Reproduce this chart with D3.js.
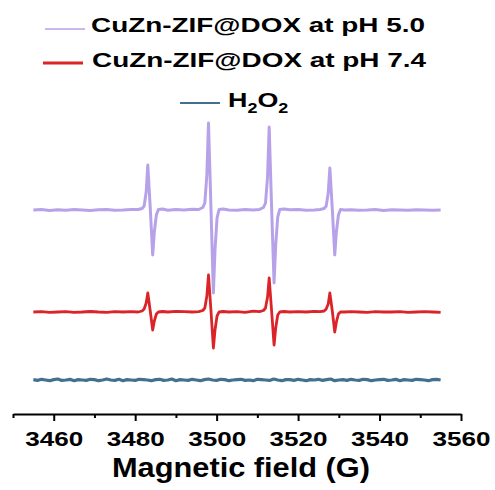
<!DOCTYPE html>
<html>
<head>
<meta charset="utf-8">
<script src="https://cdn.jsdelivr.net/npm/d3@7"></script>
<style>
  body { margin: 0; background: #fff; }
  text { font-family: Arial, "Liberation Sans", sans-serif; font-weight: bold; fill: #000; }
</style>
</head>
<body>
<div id="chart"></div>
<script>
// EPR spectra (DMPO-OH quartet), shared field axis for the two samples
var field = [3455, 3457, 3459, 3461, 3463, 3465, 3467, 3469, 3471, 3473, 3475, 3477, 3479, 3480.7,
  3481.7, 3482.2, 3482.7, 3483.1, 3483.7, 3484.3, 3484.7, 3485.2, 3485.7, 3486.7,
  3488, 3490, 3492, 3494, 3495.6,
  3496.6, 3497.1, 3497.6, 3498.0, 3498.6, 3499.2, 3499.6, 3500.1, 3500.6, 3501.6,
  3503, 3505, 3507, 3509, 3510.5,
  3511.5, 3512.0, 3512.5, 3512.9, 3513.5, 3514.1, 3514.5, 3515.0, 3515.5, 3516.5,
  3518, 3520, 3522, 3524, 3525.4,
  3526.4, 3526.9, 3527.4, 3527.8, 3528.4, 3529.0, 3529.4, 3529.9, 3530.4, 3531.4,
  3533, 3535, 3537, 3539, 3541, 3543, 3545, 3547, 3549, 3551, 3553, 3555];

var ph50 = [0, 0.5, -0.5, 0.3, -0.3, 0.5, 0, -0.5, 0.3, 0.6, -0.3, 0, 0.5, 0.5,
  1.5, 4, 18, 45, 2, -45, -22, -5, 0.5, 1,
  -0.3, 0.5, 0, 0.8, 0.5,
  2.5, 7, 35, 87, 3, -83, -40, -8, 0.5, 1,
  0, -0.3, 0.5, 0, 0.6,
  2.5, 7, 33, 83, 2, -73, -35, -7, 0.5, 1,
  0.3, 0.6, -0.3, 0, 0.5,
  1.5, 4, 17, 42, 1, -45, -22, -5, 0.5, 0,
  0.3, -0.3, 0, 0.5, -0.5, 0.3, 0, -0.3, 0.3, 0, -0.3, 0];

var ph74 = [0, 0.3, -0.3, 0, 0.3, -0.3, 0, 0.5, 0, -0.3, 0.3, 0, 0.3, 0,
  1, 3, 9, 19, 1, -18, -9, -2, 0, 0.5,
  0, 0.6, 0.3, 0, 0.3,
  1.5, 4, 16, 37, 2, -36, -18, -4, 0, 0.5,
  0, 0.3, -0.3, 0.8, 0.3,
  1.5, 4, 15, 34, 1, -33, -16, -3, 0, 0.5,
  0, 0.3, 0, 0.6, 0.3,
  1, 3, 8, 19, 1, -20, -10, -2, 0, 0,
  0.3, 0, -0.3, 0.3, 0, 0, 0.3, -0.3, 0, 0.3, 0, -0.3];

// H2O2 only: flat noisy trace
var fieldH2O2 = [3455, 3456, 3457, 3458, 3459, 3460, 3461, 3462, 3463, 3464,
  3465, 3466, 3467, 3468, 3469, 3470, 3471, 3472, 3473, 3474,
  3475, 3476, 3477, 3478, 3479, 3480, 3481, 3482, 3483, 3484,
  3485, 3486, 3487, 3488, 3489, 3490, 3491, 3492, 3493, 3494,
  3495, 3496, 3497, 3498, 3499, 3500, 3501, 3502, 3503, 3504,
  3505, 3506, 3507, 3508, 3509, 3510, 3511, 3512, 3513, 3514,
  3515, 3516, 3517, 3518, 3519, 3520, 3521, 3522, 3523, 3524,
  3525, 3526, 3527, 3528, 3529, 3530, 3531, 3532, 3533, 3534,
  3535, 3536, 3537, 3538, 3539, 3540, 3541, 3542, 3543, 3544,
  3545, 3546, 3547, 3548, 3549, 3550, 3551, 3552, 3553, 3554,
  3555];
var h2o2 = [0.4, -0.4, 0.7, 0, -0.7, 0.4, 1, -0.4, 0, 0.7,
  -0.7, 0.4, 0, -0.4, 0.7, 0.4, -0.7, 0, 1, 0,
  -0.4, 0.7, -0.7, 0.4, 0, -0.4, 0.7, 0.4, 0, -0.7,
  0.4, 0.7, -0.4, 0, 1, -0.7, 0.4, 0, -0.4, 0.7,
  0, -0.7, 0.4, 1, 0, -0.4, 0.7, 0.4, -0.7, 0,
  0.4, 0.7, -0.4, 0, -0.7, 0.7, 0.4, 0, -0.4, 1,
  0, -0.7, 0.4, 0.4, -0.4, 0.7, 0, -0.7, 0.4, 0,
  0.7, -0.4, 0.4, 1, -0.7, 0, 0.4, -0.4, 0.7, 0,
  -0.4, 0.7, 0.4, -0.7, 0, 0.4, 0.7, -0.4, 0, 0.7,
  -0.7, 0.4, 0, -0.4, 0.7, 0.4, 0, -0.7, 0.4, 0.7,
  0];

var majorTicks = [3460, 3480, 3500, 3520, 3540, 3560];
var minorTicks = [3450, 3470, 3490, 3510, 3530, 3550];

var width = 495, height = 490;

var svg = d3.select("#chart").append("svg")
  .attr("width", width)
  .attr("height", height);

var x = d3.scaleLinear().domain([3450, 3560]).range([13, 461]);
// arbitrary intensity units, stacked with offsets
var y = d3.scaleLinear().domain([-30, 270]).range([410, 110]);

var series = [
  { name: "CuZn-ZIF@DOX at pH 5.0", xs: field, ys: ph50, offset: 170, color: "#b7a2ea", w: 3 },
  { name: "CuZn-ZIF@DOX at pH 7.4", xs: field, ys: ph74, offset: 68, color: "#da2428", w: 2.8 },
  { name: "H2O2", xs: fieldH2O2, ys: h2o2, offset: 0, color: "#43708f", w: 3.2 }
];

var line = d3.line()
  .x(d => x(d[0]))
  .y(d => y(d[1]));

// draw bottom trace first so the upper ones sit on top
series.slice().reverse().forEach(function(s) {
  var pts = s.xs.map((f, i) => [f, s.ys[i] + s.offset]);
  svg.append("path")
    .datum(pts)
    .attr("fill", "none")
    .attr("stroke", s.color)
    .attr("stroke-width", s.w)
    .attr("stroke-linejoin", "round")
    .attr("d", line);
});

// axis
var axisY = 414;
svg.append("g")
  .attr("transform", `translate(0,${axisY})`)
  .call(d3.axisBottom(x).tickValues(minorTicks).tickSize(4).tickSizeOuter(0).tickFormat(""))
  .call(g => g.select(".domain").remove())
  .call(g => g.selectAll("line").attr("stroke-width", 2));

var xAxis = svg.append("g")
  .attr("transform", `translate(0,${axisY})`)
  .call(d3.axisBottom(x).tickValues(majorTicks).tickSize(7).tickSizeOuter(0).tickFormat(d3.format("d")));

xAxis.select(".domain").attr("stroke-width", 2);
xAxis.selectAll("line").attr("stroke-width", 2);
xAxis.selectAll("text")
  .attr("y", 32)
  .attr("dy", 0)
  .style("font-size", "21px")
  .style("font-family", "Arial, 'Liberation Sans', sans-serif")
  .style("font-weight", "bold")
  .attr("fill", "#000")
  .attr("textLength", 58)
  .attr("lengthAdjust", "spacingAndGlyphs");

svg.append("text")
  .attr("x", 112)
  .attr("y", 477)
  .style("font-size", "28px")
  .attr("textLength", 258)
  .attr("lengthAdjust", "spacingAndGlyphs")
  .text("Magnetic field (G)");

// legend
var legend = [
  { y: 29, x1: 45, x2: 85, w: 1.5, tx: 91, ty: 32 },
  { y: 63, x1: 43, x2: 83, w: 3, tx: 92, ty: 67 },
  { y: 103, x1: 180, x2: 220, w: 2, tx: 228, ty: 107 }
];

legend.forEach(function(l, i) {
  svg.append("line")
    .attr("x1", l.x1).attr("x2", l.x2)
    .attr("y1", l.y).attr("y2", l.y)
    .attr("stroke", series[i].color)
    .attr("stroke-width", l.w);
});

[0, 1].forEach(function(i) {
  svg.append("text")
    .attr("x", legend[i].tx)
    .attr("y", legend[i].ty)
    .style("font-size", "21px")
    .attr("textLength", 334)
    .attr("lengthAdjust", "spacingAndGlyphs")
    .text(series[i].name);
});

var h = svg.append("text")
  .attr("transform", `translate(${legend[2].tx},${legend[2].ty}) scale(1.28,1)`)
  .style("font-size", "21px");
h.append("tspan").text("H");
h.append("tspan").attr("dy", 6).style("font-size", "14px").text("2");
h.append("tspan").attr("dy", -6).text("O");
h.append("tspan").attr("dy", 6).style("font-size", "14px").text("2");
</script>
</body>
</html>
